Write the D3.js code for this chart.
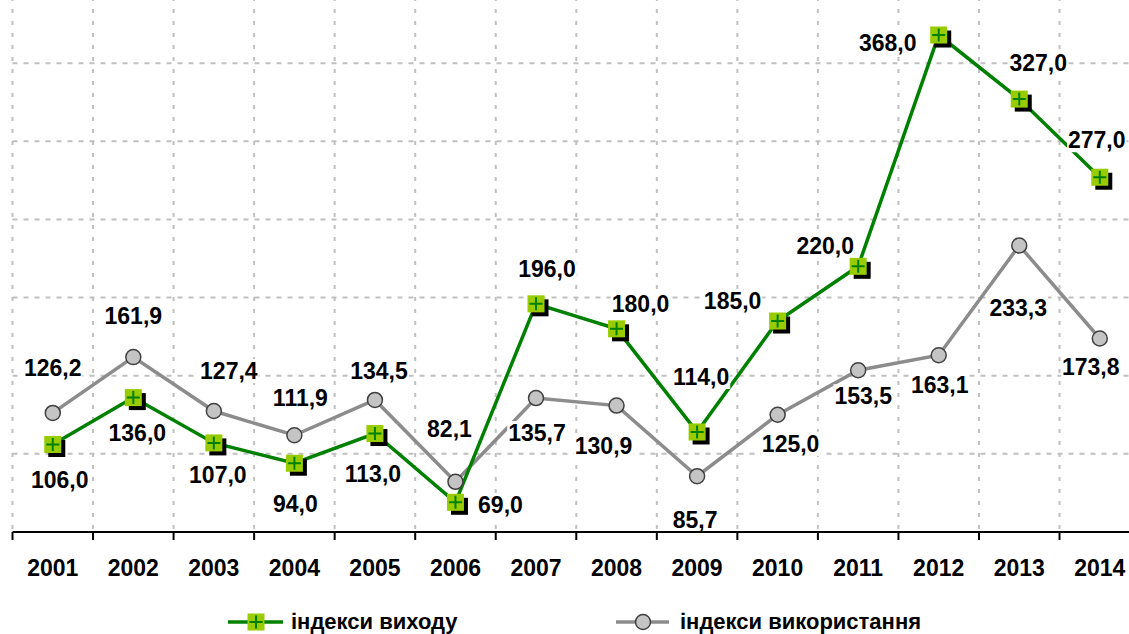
<!DOCTYPE html>
<html>
<head>
<meta charset="utf-8">
<script src="https://cdn.jsdelivr.net/npm/d3@7"></script>
<style>
body { margin: 0; background: #fff; }
text { font-family: "Liberation Sans", Arial, sans-serif; font-weight: bold; fill: #000; }
</style>
</head>
<body>
<svg id="chart" width="1129" height="634"></svg>
<script>
var years = ["2001", "2002", "2003", "2004", "2005", "2006", "2007", "2008", "2009", "2010", "2011", "2012", "2013", "2014"];
var outputIndex = [106.0, 136.0, 107.0, 94.0, 113.0, 69.0, 196.0, 180.0, 114.0, 185.0, 220.0, 368.0, 327.0, 277.0];
var useIndex = [126.2, 161.9, 127.4, 111.9, 134.5, 82.1, 135.7, 130.9, 85.7, 125.0, 153.5, 163.1, 233.3, 173.8];
var gridValues = [100, 150, 200, 250, 300, 350, 400];
var seriesNames = ["індекси виходу", "індекси використання"];

// label placement, offset of label centre from its point
var outputLabelShift = [[7, 35], [4, 35], [4, 32], [1, 41], [-2, 40], [45, 3], [11, -35], [24, -25], [4, -55], [-45, -20], [-33, -20], [-51, 8], [19, -36], [-3, -37]];
var useLabelShift = [[0, -45], [0, -41], [15, -40], [6, -37], [4, -29], [-6, -53], [1, 35], [-13, 40], [-2, 44], [13, 29], [5, 26], [1, 30], [-1, 62], [-9, 28]];

var W = 1129, H = 634;
var left = 12.5, bandW = 80.54;
var x = d3.scaleBand().domain(years).range([left, left + bandW * years.length]);
var y = d3.scaleLinear().domain([50, 400]).range([532, -15]);
var cx = function(d, i) { return x(years[i]) + x.bandwidth() / 2; };
var fmt = d3.formatLocale({ decimal: ",", thousands: " ", grouping: [3], currency: ["", ""] }).format(".1f");

var svg = d3.select("#chart");

// Grid
var grid = svg.append("g").attr("stroke", "#c0c0c0").attr("stroke-width", 2);
grid.selectAll("line.h").data(gridValues).enter().append("line")
  .attr("x1", left).attr("x2", W).attr("y1", function(d) { return y(d); }).attr("y2", function(d) { return y(d); })
  .attr("stroke-dasharray", "5,6");
grid.selectAll("line.v").data(years).enter().append("line")
  .attr("x1", function(d) { return x(d); }).attr("x2", function(d) { return x(d); })
  .attr("y1", y(400)).attr("y2", y(50))
  .attr("stroke-dasharray", "4,8");

// Lines
var line = d3.line().x(cx).y(function(d) { return y(d); });
svg.append("path").attr("d", line(useIndex)).attr("fill", "none").attr("stroke", "#8c8c8c").attr("stroke-width", 3.5);
svg.append("path").attr("d", line(outputIndex)).attr("fill", "none").attr("stroke", "#008000").attr("stroke-width", 3.5);

// Data labels with white boxes
var drawLabels = function(values, shift) {
  var g = svg.append("g");
  values.forEach(function(v, i) {
    var lx = cx(v, i) + shift[i][0], ly = y(v) + shift[i][1];
    var rect = g.append("rect").attr("fill", "#fff");
    var t = g.append("text").attr("x", lx).attr("y", ly).attr("dy", "0.35em")
      .attr("text-anchor", "middle").attr("font-size", 23).text(fmt(v));
    var w = t.node().getComputedTextLength();
    rect.attr("x", lx - w / 2 - 1).attr("y", ly - 12).attr("width", w + 2).attr("height", 24);
  });
};
drawLabels(outputIndex, outputLabelShift);
drawLabels(useIndex, useLabelShift);

// Axis
var axis = svg.append("g");
axis.append("line").attr("x1", left).attr("x2", W).attr("y1", y(50)).attr("y2", y(50))
  .attr("stroke", "#000").attr("stroke-width", 2);
axis.selectAll("line.tick").data(years).enter().append("line")
  .attr("x1", function(d) { return x(d); }).attr("x2", function(d) { return x(d); })
  .attr("y1", y(50)).attr("y2", y(50) + 8)
  .attr("stroke", "#000").attr("stroke-width", 2);
axis.selectAll("text").data(years).enter().append("text")
  .attr("x", function(d) { return x(d) + x.bandwidth() / 2; })
  .attr("y", y(50) + 44)
  .attr("text-anchor", "middle").attr("font-size", 23)
  .text(function(d) { return d; });

// Markers
var circleMarker = function(sel) {
  sel.append("circle").attr("r", 7.5).attr("fill", "#c4c4c4").attr("stroke", "#404040").attr("stroke-width", 1.5);
};
var squareMarker = function(sel, shadow) {
  if (shadow) sel.append("rect").attr("x", -4.5).attr("y", -4.5).attr("width", 17).attr("height", 17).attr("fill", "#000");
  sel.append("rect").attr("x", -8.5).attr("y", -8.5).attr("width", 17).attr("height", 17).attr("fill", "#99cc00");
  sel.append("path").attr("d", "M-6.5,0H6.5M0,-6.5V6.5").attr("stroke", "#008000").attr("stroke-width", 2);
};
svg.append("g").selectAll("g").data(useIndex).enter().append("g")
  .attr("transform", function(d, i) { return "translate(" + cx(d, i) + "," + y(d) + ")"; })
  .call(circleMarker);
svg.append("g").selectAll("g").data(outputIndex).enter().append("g")
  .attr("transform", function(d, i) { return "translate(" + cx(d, i) + "," + y(d) + ")"; })
  .each(function() { squareMarker(d3.select(this), true); });

// Legend
var legend = svg.append("g");
var lg1 = legend.append("g").attr("transform", "translate(228,622)");
lg1.append("line").attr("x1", 0).attr("x2", 55).attr("stroke", "#008000").attr("stroke-width", 3.5);
squareMarker(lg1.append("g").attr("transform", "translate(28,0)"), false);
lg1.append("text").attr("x", 63).attr("y", 7).attr("font-size", 22).text(seriesNames[0]);

var lg2 = legend.append("g").attr("transform", "translate(616,622)");
lg2.append("line").attr("x1", 0).attr("x2", 53).attr("stroke", "#8c8c8c").attr("stroke-width", 3.5);
circleMarker(lg2.append("g").attr("transform", "translate(27,0)"));
lg2.append("text").attr("x", 64).attr("y", 7).attr("font-size", 22).text(seriesNames[1]);
</script>
</body>
</html>
